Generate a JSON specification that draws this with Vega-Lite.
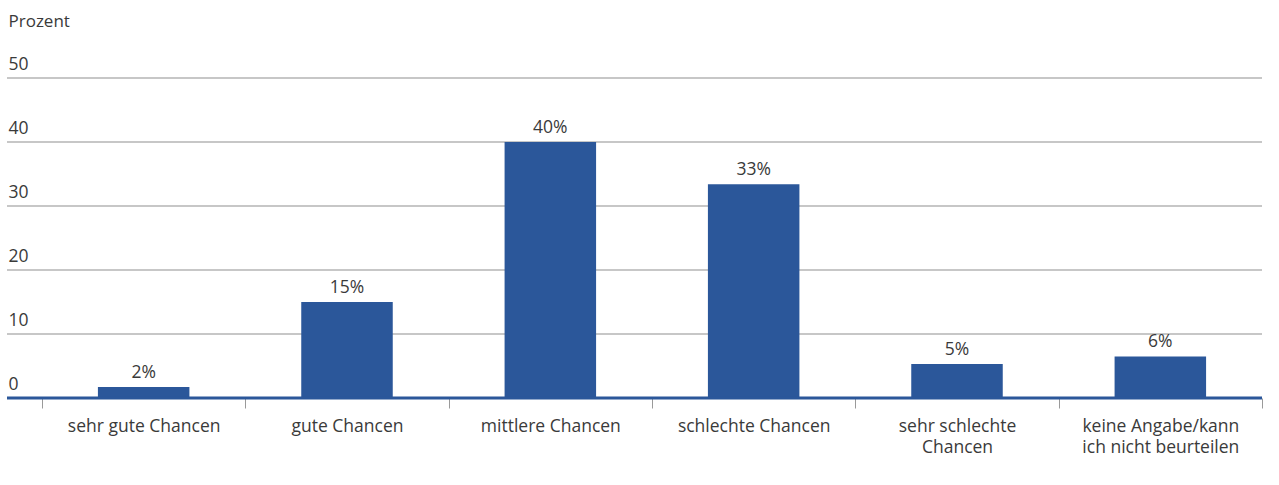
{
  "$schema": "https://vega.github.io/schema/vega-lite/v6.json",
  "width": 1255,
  "height": 320,
  "autosize": {"type": "none"},
  "padding": {"left": 7, "top": 78, "right": 17, "bottom": 87},
  "background": "#ffffff",
  "config": {
    "font": "Open Sans",
    "view": {"stroke": null}
  },
  "datasets": {
    "werte": [
      {"kategorie": "sehr gute Chancen", "prozent": 1.7, "label": "2%"},
      {"kategorie": "gute Chancen", "prozent": 15, "label": "15%"},
      {"kategorie": "mittlere Chancen", "prozent": 40, "label": "40%"},
      {"kategorie": "schlechte Chancen", "prozent": 33.4, "label": "33%"},
      {"kategorie": "sehr schlechte Chancen", "prozent": 5.3, "label": "5%"},
      {"kategorie": "keine Angabe/kann ich nicht beurteilen", "prozent": 6.5, "label": "6%"}
    ],
    "gitter": [
      {"prozent": 10}, {"prozent": 20}, {"prozent": 30}, {"prozent": 40}, {"prozent": 50}
    ],
    "basis": [
      {"prozent": 0}
    ]
  },
  "layer": [
    {
      "data": {"name": "gitter"},
      "mark": {"type": "rule", "color": "#8f8f8f", "strokeWidth": 1},
      "encoding": {
        "y": {
          "field": "prozent",
          "type": "quantitative",
          "scale": {"domain": [0, 50], "nice": false},
          "axis": {
            "values": [0, 10, 20, 30, 40, 50],
            "grid": false,
            "domain": false,
            "ticks": false,
            "labelAlign": "left",
            "labelBaseline": "alphabetic",
            "labelPadding": -1,
            "labelOffset": -9,
            "labelFontSize": 17.5,
            "labelColor": "#3a3a3a",
            "title": "Prozent",
            "titleAngle": 0,
            "titleAlign": "left",
            "titleBaseline": "middle",
            "titleX": 1,
            "titleY": -57,
            "titleFontSize": 17,
            "titleFontWeight": "normal",
            "titleColor": "#3a3a3a"
          }
        }
      }
    },
    {
      "data": {"name": "werte"},
      "mark": {"type": "bar", "color": "#2b579a", "width": {"band": 0.45}},
      "encoding": {
        "x": {
          "field": "kategorie",
          "type": "nominal",
          "sort": null,
          "scale": {"range": [35, 1255], "paddingInner": 0, "paddingOuter": 0},
          "axis": {
            "title": null,
            "domain": false,
            "tickBand": "extent",
            "tickColor": "#9a9a9a",
            "tickWidth": 1,
            "tickSize": 10,
            "labelPadding": 9,
            "labelAngle": 0,
            "labelFontSize": 17.5,
            "labelColor": "#3a3a3a",
            "labelLineHeight": 21,
            "labelBaseline": "top",
            "labelExpr": "datum.label == 'sehr schlechte Chancen' ? ['sehr schlechte', 'Chancen'] : datum.label == 'keine Angabe/kann ich nicht beurteilen' ? ['keine Angabe/kann', 'ich nicht beurteilen'] : datum.label"
          }
        },
        "y": {"field": "prozent", "type": "quantitative"}
      }
    },
    {
      "data": {"name": "werte"},
      "mark": {"type": "text", "baseline": "alphabetic", "dy": -9, "fontSize": 17.5, "color": "#3a3a3a"},
      "encoding": {
        "x": {"field": "kategorie", "type": "nominal", "sort": null},
        "y": {"field": "prozent", "type": "quantitative"},
        "text": {"field": "label"}
      }
    },
    {
      "data": {"name": "basis"},
      "mark": {"type": "rule", "color": "#2b579a", "strokeWidth": 3},
      "encoding": {
        "y": {"field": "prozent", "type": "quantitative"}
      }
    }
  ]
}
